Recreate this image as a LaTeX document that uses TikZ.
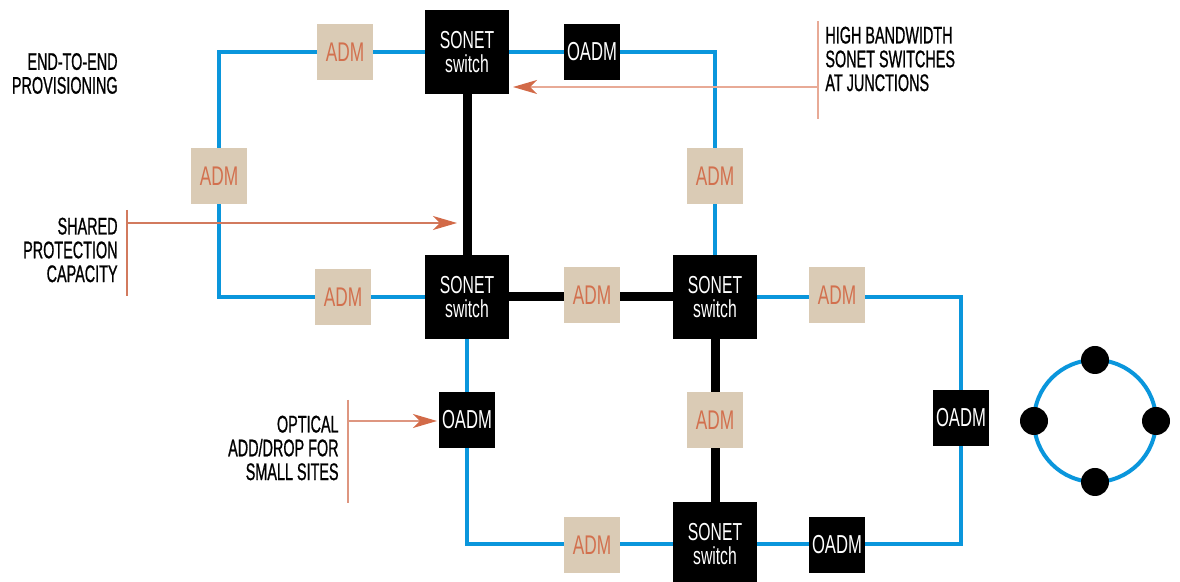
\documentclass[tikz,border=0pt]{standalone}
\usepackage{fontspec}
\setmainfont{Liberation Sans}[FakeStretch=0.64]
\newfontfamily\notefont{Liberation Sans}[FakeStretch=0.6,FakeBold=0.8]
\usetikzlibrary{arrows.meta}
\definecolor{ringblue}{HTML}{0A96DC}
\definecolor{admbg}{HTML}{DACBB5}
\definecolor{admtxt}{HTML}{D2704E}
\definecolor{arrowhead}{HTML}{D26A48}
\definecolor{calloutA}{HTML}{E8AA96}
\definecolor{calloutB}{HTML}{D27A5E}
\definecolor{calloutC}{HTML}{DE9680}
\begin{document}
\begin{tikzpicture}[x=0.5pt,y=-0.5pt,
 sonet/.style={fill=black,text=white,minimum width=42pt,minimum height=42pt,inner sep=0pt,align=center,font=\fontsize{12.3}{11.8}\selectfont},
 adm/.style={fill=admbg,text=admtxt,minimum size=28pt,inner sep=0pt,font=\fontsize{13.5}{13}\selectfont},
 oadm/.style={fill=black,text=white,minimum size=28pt,inner sep=0pt,font=\fontsize{13}{13}\selectfont},
 ring/.style={draw=ringblue,line width=2pt},
 trunk/.style={draw=black,line width=4.5pt},
 note/.style={inner sep=0pt,font=\notefont\fontsize{12}{11.9}\selectfont},
 bar/.style={line width=0.6pt},
 callout/.style={line width=0.7pt,-{Stealth[length=12pt,width=7pt,inset=3.5pt,color=arrowhead]}},
 dot/.style={circle,fill=black,minimum size=14pt,inner sep=0pt}
]
\useasboundingbox (0,0) rectangle (1180,582);

% switches and add/drop multiplexers
\node[sonet] (stop) at (467,52) {SONET\\switch};
\node[sonet] (sml) at (467,297) {SONET\\switch};
\node[sonet] (smr) at (715,297) {SONET\\switch};
\node[sonet] (sbot) at (715,544) {SONET\\switch};
\node[adm] (admT) at (345,52) {ADM};
\node[adm] (admL) at (219,176) {ADM};
\node[adm] (admBL) at (343,297) {ADM};
\node[oadm] (oadmT) at (592,52) {OADM};
\node[adm] (admTR) at (715,176) {ADM};
\node[adm] (admM) at (592,295) {ADM};
\node[adm] (admR) at (837,295) {ADM};
\node[oadm] (oadmR) at (961,418) {OADM};
\node[oadm] (oadmB) at (837,545) {OADM};
\node[oadm] (oadmL) at (467,420) {OADM};
\node[adm] (admB) at (592,545) {ADM};
\node[adm] (admV) at (715,420) {ADM};

% ring corners
\coordinate (cTL) at (219,52);
\coordinate (cBL) at (219,297);
\coordinate (cTR) at (715,52);
\coordinate (cR1) at (961,297);
\coordinate (cR2) at (961,544);
\coordinate (cB) at (467,544);

% blue rings
\draw[ring] (stop) -- (admT.east |- stop) (admT.west) -- (cTL) -- (admL.north);
\draw[ring] (admL.south) -- (cBL) -- (admBL.west |- cBL) (admBL.east |- sml) -- (sml);
\draw[ring] (stop) -- (oadmT) (oadmT.east) -- (cTR) -- (admTR.north) (admTR.south) -- (smr.north);
\draw[ring] (smr) -- (admR.west |- smr) (admR.east |- cR1) -- (cR1) -- (oadmR.north) (oadmR.south) -- (cR2) -- (oadmB.east |- cR2) (oadmB.west |- cR2) -- (sbot);
\draw[ring] (sml) -- (oadmL) (oadmL.south) -- (cB) -- (admB.west |- cB) (admB.east |- cB) -- (sbot);

% thick trunks
\draw[trunk] (stop) -- (sml);
\draw[trunk] (sml) -- (admM.west |- sml) (admM.east |- smr) -- (smr);
\draw[trunk] (smr) -- (admV) -- (sbot);

% annotations
\node[note,anchor=east,align=right] (e2e) at (118,73.5) {END-TO-END\\PROVISIONING};
\node[note,anchor=east,align=right] (shared) at (118,250) {SHARED\\PROTECTION\\CAPACITY};
\node[note,anchor=east,align=right] (optical) at (339,448) {OPTICAL\\ADD/DROP FOR\\SMALL SITES};
\node[note,anchor=west,align=left] (hbw) at (825,59) {HIGH BANDWIDTH\\SONET SWITCHES\\AT JUNCTIONS};

\coordinate (hbwT) at (818,21);
\coordinate (hbwB) at (818,119);
\coordinate (hbwFrom) at (818,87);
\coordinate (hbwTip) at (513,87);
\draw[bar,draw=calloutA] (hbwT) -- (hbwB);
\draw[callout,draw=calloutA] (hbwFrom) -- (hbwTip);

\coordinate (shT) at (127,210);
\coordinate (shB) at (127,296);
\coordinate (shFrom) at (127,223);
\coordinate (shTip) at (457,223);
\draw[bar,draw=calloutB] (shT) -- (shB);
\draw[callout,draw=calloutB] (shFrom) -- (shTip);

\coordinate (opT) at (348,400);
\coordinate (opB) at (348,503);
\coordinate (opFrom) at (348,421);
\coordinate (opTip) at (437,421);
\draw[bar,draw=calloutC] (opT) -- (opB);
\draw[callout,draw=calloutC] (opFrom) -- (opTip);

% small ring symbol
\coordinate (rc) at (1095,421);
\draw[ring] (rc) circle[radius=30.5pt];
\node[dot] (d1) at (1095,360) {};
\node[dot] (d2) at (1034,421) {};
\node[dot] (d3) at (1156,421) {};
\node[dot] (d4) at (1095,482) {};
\end{tikzpicture}
\end{document}
